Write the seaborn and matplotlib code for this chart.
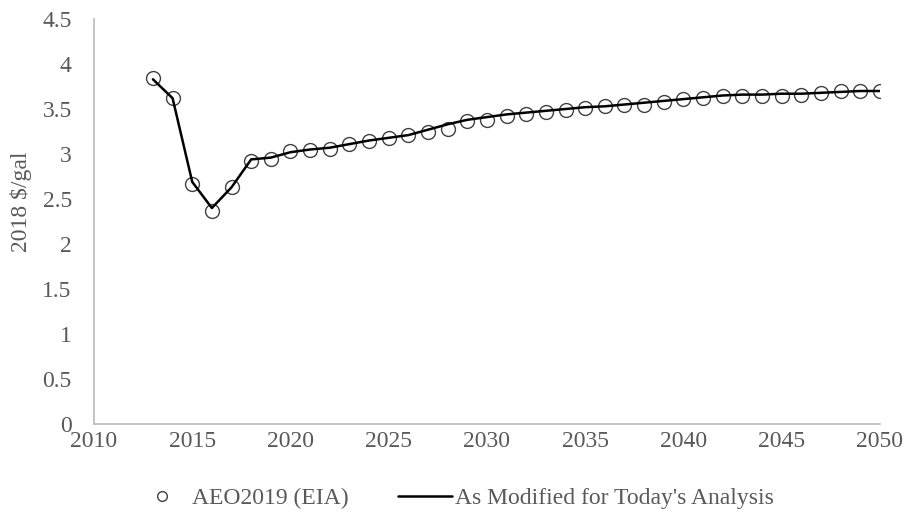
import matplotlib
matplotlib.use("Agg")
import matplotlib.pyplot as plt
from matplotlib.lines import Line2D
import pandas as pd
import seaborn as sns

# Fuel price projections, 2018 dollars per gallon
years = list(range(2013, 2051))
aeo2019 = [3.84, 3.62, 2.67, 2.37, 2.63, 2.92, 2.95, 3.03, 3.05, 3.06,
           3.11, 3.15, 3.18, 3.21, 3.25, 3.28, 3.37, 3.38, 3.42, 3.45,
           3.47, 3.49, 3.51, 3.53, 3.54, 3.55, 3.58, 3.61, 3.62, 3.65,
           3.65, 3.65, 3.65, 3.66, 3.68, 3.70, 3.70, 3.70]
modified = [3.83, 3.62, 2.69, 2.40, 2.63, 2.94, 2.96, 3.02, 3.05, 3.07,
            3.11, 3.15, 3.18, 3.21, 3.27, 3.33, 3.38, 3.41, 3.44, 3.46,
            3.48, 3.50, 3.52, 3.53, 3.55, 3.57, 3.59, 3.61, 3.63, 3.65,
            3.66, 3.66, 3.67, 3.67, 3.68, 3.69, 3.70, 3.70]

x_ticks = [2010, 2015, 2020, 2025, 2030, 2035, 2040, 2045, 2050]
y_ticks = [0, 0.5, 1, 1.5, 2, 2.5, 3, 3.5, 4, 4.5]
y_tick_labels = ["0", "0.5", "1", "1.5", "2", "2.5", "3", "3.5", "4", "4.5"]

series_names = ["AEO2019 (EIA)", "As Modified for Today's Analysis"]

df = pd.DataFrame({"year": years, "aeo": aeo2019, "mod": modified})

sns.set_theme(style="white")
plt.rcParams["font.family"] = ["Liberation Serif", "DejaVu Serif"]

text_gray = "#595959"
axis_gray = "#bfbfbf"

fig = plt.figure(figsize=(9.09, 5.19), dpi=100)
ax = fig.add_axes([0.1034, 0.183, 0.8646, 0.7804])

sns.lineplot(data=df, x="year", y="aeo", ax=ax, linestyle="none",
             marker="o", markersize=10, markerfacecolor="none",
             markeredgecolor="#404040", markeredgewidth=1.0, zorder=2)
sns.lineplot(data=df, x="year", y="mod", ax=ax, color="black",
             linewidth=1.8, zorder=3)

ax.set_xlim(2010, 2050)
ax.set_ylim(0, 4.5)
ax.set_xticks(x_ticks)
ax.set_xticklabels([str(t) for t in x_ticks])
ax.set_yticks(y_ticks)
ax.set_yticklabels(y_tick_labels)
ax.tick_params(axis="both", length=0, labelsize=17, labelcolor=text_gray)
ax.tick_params(axis="x", pad=5)
ax.tick_params(axis="y", pad=16)
ax.set_xlabel("")
ax.set_ylabel("2018 $/gal", fontsize=17, color=text_gray)
ax.yaxis.set_label_coords(-0.079, 0.55)

sns.despine(ax=ax)
for side in ("left", "bottom"):
    ax.spines[side].set_color(axis_gray)
    ax.spines[side].set_linewidth(1.3)

handles = [
    Line2D([], [], linestyle="none", marker="o", markersize=7,
           markerfacecolor="none", markeredgecolor="#404040",
           markeredgewidth=1.0),
    Line2D([], [], color="black", linewidth=1.8),
]
fig.legend(handles, series_names, loc="center", bbox_to_anchor=(0.5, 0.04),
           ncol=2, frameon=False, fontsize=17, labelcolor=text_gray,
           handlelength=2.29, handletextpad=0.13, columnspacing=2.08)

fig.savefig("out.png", dpi=100)
